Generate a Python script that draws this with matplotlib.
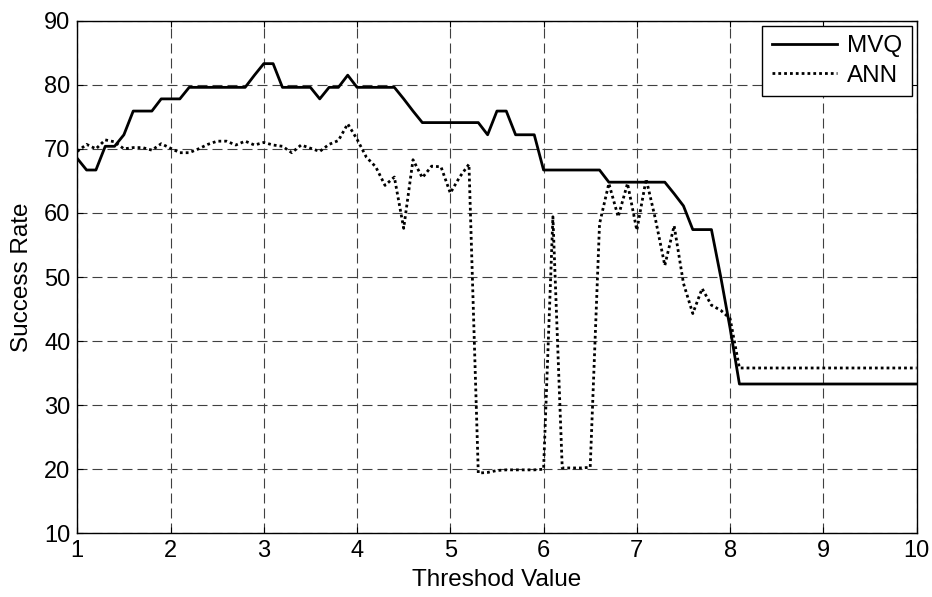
import matplotlib
matplotlib.use('Agg')
import matplotlib.pyplot as plt

plt.rcParams['font.family'] = ['Liberation Sans', 'DejaVu Sans']

# threshold values on the x axis
threshold = [1.0, 1.1, 1.2, 1.3, 1.4, 1.5, 1.6, 1.7, 1.8, 1.9,
             2.0, 2.1, 2.2, 2.3, 2.4, 2.5, 2.6, 2.7, 2.8, 2.9,
             3.0, 3.1, 3.2, 3.3, 3.4, 3.5, 3.6, 3.7, 3.8, 3.9,
             4.0, 4.1, 4.2, 4.3, 4.4, 4.5, 4.6, 4.7, 4.8, 4.9,
             5.0, 5.1, 5.2, 5.3, 5.4, 5.5, 5.6, 5.7, 5.8, 5.9,
             6.0, 6.1, 6.2, 6.3, 6.4, 6.5, 6.6, 6.7, 6.8, 6.9,
             7.0, 7.1, 7.2, 7.3, 7.4, 7.5, 7.6, 7.7, 7.8, 7.9,
             8.0, 8.1, 8.2, 8.3, 8.4, 8.5, 8.6, 8.7, 8.8, 8.9,
             9.0, 9.1, 9.2, 9.3, 9.4, 9.5, 9.6, 9.7, 9.8, 9.9,
             10.0]

# success rate of MVQ
mvq = [68.5, 66.7, 66.7, 70.4, 70.4, 72.2, 75.9, 75.9, 75.9, 77.8,
       77.8, 77.8, 79.6, 79.6, 79.6, 79.6, 79.6, 79.6, 79.6, 81.5,
       83.3, 83.3, 79.6, 79.6, 79.6, 79.6, 77.8, 79.6, 79.6, 81.5,
       79.6, 79.6, 79.6, 79.6, 79.6, 77.8, 75.9, 74.1, 74.1, 74.1,
       74.1, 74.1, 74.1, 74.1, 72.2, 75.9, 75.9, 72.2, 72.2, 72.2,
       66.7, 66.7, 66.7, 66.7, 66.7, 66.7, 66.7, 64.8, 64.8, 64.8,
       64.8, 64.8, 64.8, 64.8, 63.0, 61.1, 57.4, 57.4, 57.4, 50.0,
       42.0, 33.3, 33.3, 33.3, 33.3, 33.3, 33.3, 33.3, 33.3, 33.3,
       33.3, 33.3, 33.3, 33.3, 33.3, 33.3, 33.3, 33.3, 33.3, 33.3,
       33.3]

# success rate of ANN
ann = [69.6, 70.7, 70.0, 71.4, 71.1, 70.0, 70.2, 70.2, 69.8, 70.8,
       70.1, 69.4, 69.4, 70.0, 70.7, 71.2, 71.2, 70.6, 71.2, 70.6,
       71.0, 70.6, 70.4, 69.4, 70.6, 70.1, 69.6, 70.7, 71.3, 73.9,
       71.5, 68.7, 67.2, 64.3, 65.6, 57.6, 68.3, 65.5, 67.3, 67.2,
       63.1, 65.6, 67.6, 19.4, 19.5, 19.8, 19.9, 19.9, 19.9, 19.9,
       20.0, 59.4, 20.2, 20.2, 20.2, 20.3, 58.3, 64.6, 59.4, 64.6,
       57.3, 65.3, 59.0, 51.8, 58.0, 49.0, 44.3, 48.2, 45.6, 44.8,
       43.5, 35.8, 35.8, 35.8, 35.8, 35.8, 35.8, 35.8, 35.8, 35.8,
       35.8, 35.8, 35.8, 35.8, 35.8, 35.8, 35.8, 35.8, 35.8, 35.8,
       35.8]

x_ticks = [1, 2, 3, 4, 5, 6, 7, 8, 9, 10]
y_ticks = [10, 20, 30, 40, 50, 60, 70, 80, 90]

fs = 17.5

fig = plt.figure(figsize=(9.32, 5.97), dpi=100)
ax = fig.add_axes([0.0829, 0.1067, 0.9006, 0.8586])

ax.plot(threshold, mvq, color='black', linewidth=2.0, linestyle='-', label='MVQ')
ax.plot(threshold, ann, color='black', linewidth=2.0, linestyle=(0, (1, 1.1)), label='ANN')

ax.set_xlim(1, 10)
ax.set_ylim(10, 90)
ax.set_xticks(x_ticks)
ax.set_yticks(y_ticks)
ax.tick_params(direction='in', top=True, right=True, length=4, width=0.8,
               labelsize=17, pad=5)
ax.grid(True, color='0.25', linewidth=0.8, linestyle=(0, (9, 4.5)))
for s in ax.spines.values():
    s.set_linewidth(1.0)

ax.set_xlabel('Threshod Value', fontsize=fs, labelpad=5)
ax.set_ylabel('Success Rate', fontsize=fs, labelpad=8)

leg = ax.legend(loc='upper right', fontsize=fs, fancybox=False, framealpha=1,
                edgecolor='black', borderaxespad=0.2, handlelength=2.7,
                handletextpad=0.4, labelspacing=0.3, borderpad=0.4)
leg.get_frame().set_linewidth(1.0)

fig.savefig('out.png', dpi=100)
